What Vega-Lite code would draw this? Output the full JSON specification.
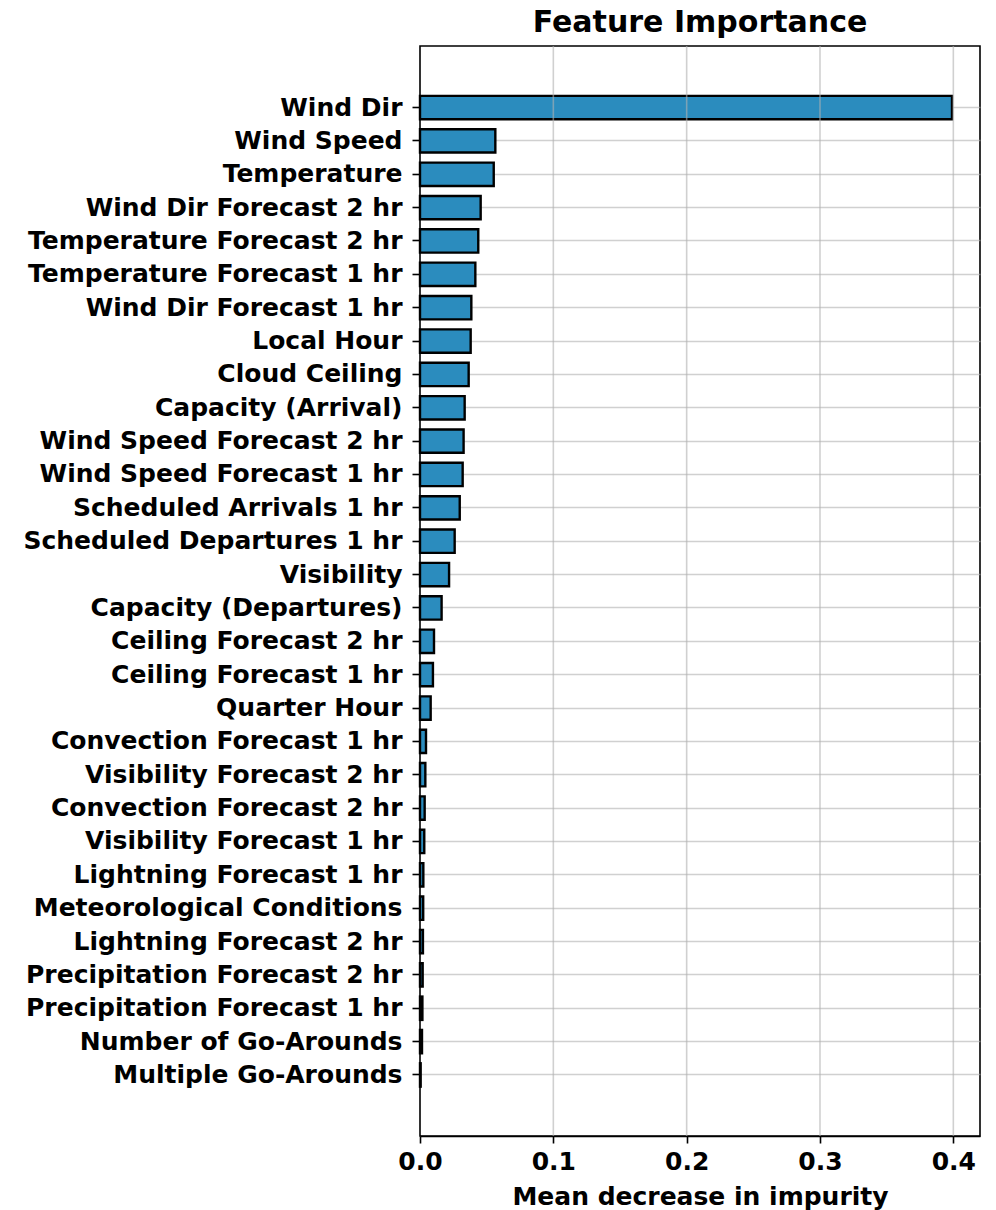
{
  "$schema": "https://vega.github.io/schema/vega-lite/v6.json",
  "autosize": "none",
  "width": 560,
  "height": 1090,
  "padding": {"left": 420, "top": 46, "right": 16, "bottom": 74},
  "background": "white",
  "title": {
    "text": "Feature Importance",
    "font": "DejaVu Sans",
    "fontSize": 30,
    "fontWeight": "bold",
    "color": "black",
    "anchor": "middle",
    "offset": 7
  },
  "config": {
    "view": {"stroke": "black", "strokeWidth": 1.6},
    "axis": {
      "labelFont": "DejaVu Sans",
      "labelFontWeight": "bold",
      "labelFontSize": 25,
      "labelColor": "black",
      "titleFont": "DejaVu Sans",
      "titleFontWeight": "bold",
      "titleFontSize": 25,
      "titleColor": "black",
      "domainColor": "black",
      "domainWidth": 1.6,
      "tickColor": "black",
      "tickWidth": 1.6,
      "tickSize": 7,
      "gridColor": "#b0b0b0",
      "gridOpacity": 0.6,
      "gridWidth": 1.6,
      "zindex": 1
    }
  },
  "layer": [
    {
      "data": {
        "values": [
          {"feature": "Wind Dir", "importance": 0.399},
          {"feature": "Wind Speed", "importance": 0.0565},
          {"feature": "Temperature", "importance": 0.0553},
          {"feature": "Wind Dir Forecast 2 hr", "importance": 0.0455},
          {"feature": "Temperature Forecast 2 hr", "importance": 0.0437},
          {"feature": "Temperature Forecast 1 hr", "importance": 0.0415},
          {"feature": "Wind Dir Forecast 1 hr", "importance": 0.0385},
          {"feature": "Local Hour", "importance": 0.038},
          {"feature": "Cloud Ceiling", "importance": 0.0365},
          {"feature": "Capacity (Arrival)", "importance": 0.0335},
          {"feature": "Wind Speed Forecast 2 hr", "importance": 0.0327},
          {"feature": "Wind Speed Forecast 1 hr", "importance": 0.032},
          {"feature": "Scheduled Arrivals 1 hr", "importance": 0.0298},
          {"feature": "Scheduled Departures 1 hr", "importance": 0.026},
          {"feature": "Visibility", "importance": 0.0218},
          {"feature": "Capacity (Departures)", "importance": 0.0162},
          {"feature": "Ceiling Forecast 2 hr", "importance": 0.0105},
          {"feature": "Ceiling Forecast 1 hr", "importance": 0.0097},
          {"feature": "Quarter Hour", "importance": 0.008},
          {"feature": "Convection Forecast 1 hr", "importance": 0.0045},
          {"feature": "Visibility Forecast 2 hr", "importance": 0.004},
          {"feature": "Convection Forecast 2 hr", "importance": 0.0035},
          {"feature": "Visibility Forecast 1 hr", "importance": 0.0032},
          {"feature": "Lightning Forecast 1 hr", "importance": 0.0025},
          {"feature": "Meteorological Conditions", "importance": 0.0024},
          {"feature": "Lightning Forecast 2 hr", "importance": 0.0022},
          {"feature": "Precipitation Forecast 2 hr", "importance": 0.002},
          {"feature": "Precipitation Forecast 1 hr", "importance": 0.0018},
          {"feature": "Number of Go-Arounds", "importance": 0.0015},
          {"feature": "Multiple Go-Arounds", "importance": 0.0005}
        ]
      },
      "mark": {"type": "bar", "fill": "#2B8CBE", "stroke": "black", "strokeWidth": 2.4},
      "encoding": {
        "y": {
          "field": "feature",
          "type": "nominal",
          "sort": null,
          "scale": {"paddingInner": 0.3, "paddingOuter": 1, "range": [16.5, 1074]},
          "axis": {
            "title": null,
            "bandPosition": 0.5,
            "grid": true,
            "domain": false,
            "labelPadding": 10,
            "tickSize": 8,
            "labelLimit": 420
          }
        },
        "x": {
          "field": "importance",
          "type": "quantitative",
          "scale": {"domain": [0, 0.42], "nice": false},
          "axis": {
            "title": "Mean decrease in impurity",
            "values": [0, 0.1, 0.2, 0.3, 0.4],
            "format": ".1f",
            "grid": false,
            "labelFlush": false,
            "labelPadding": 6,
            "titlePadding": 10
          }
        }
      }
    },
    {
      "data": {"values": [{"gridAt": 0.1}, {"gridAt": 0.2}, {"gridAt": 0.3}, {"gridAt": 0.4}]},
      "mark": {"type": "rule", "color": "#b0b0b0", "opacity": 0.6, "strokeWidth": 1.6},
      "encoding": {
        "x": {"field": "gridAt", "type": "quantitative"}
      }
    }
  ]
}
